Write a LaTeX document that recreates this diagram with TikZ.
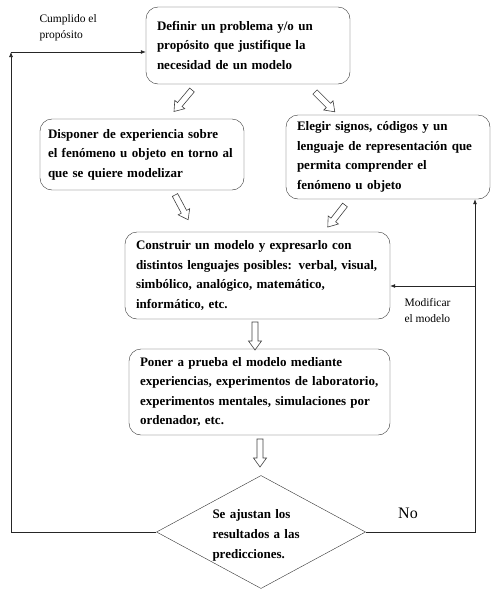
\documentclass[tikz,border=0pt]{standalone}
\usepackage{fontspec}
\setmainfont{Liberation Serif}
\usepackage{tikz}
\usetikzlibrary{arrows.meta,shapes.geometric}

\begin{document}
\begin{tikzpicture}[
  x=1pt, y=1pt,
  >={Latex[length=5pt,width=4pt]},
  paso/.style={draw=black!80, rounded corners=12pt, inner xsep=11pt, inner ysep=0pt,
               align=left, font=\fontsize{13}{19.5}\selectfont\bfseries},
  decision/.style={draw=black!80, diamond, inner sep=0pt, aspect=1.85,
                   minimum width=209pt, minimum height=113pt,
                   align=left, font=\fontsize{13}{20}\selectfont\bfseries},
  nota/.style={align=left, font=\fontsize{11.5}{16}\selectfont},
  flujo/.style={draw=black!85, line width=0.7pt},
  hueco/.pic={\draw[black!75, line width=0.6pt]
    (0,-3) -- (19,-3) -- (19,-6.5) -- (28,0) -- (19,6.5) -- (19,3) -- (0,3) -- cycle;}
]
\useasboundingbox (0,0) rectangle (496,-592);

% --- Boxes ---
\node[paso, minimum width=204pt, minimum height=77pt, text width=182pt] (def) at (248,-45.5)
  {Definir un problema y/o un\\propósito que justifique la\\necesidad de un modelo};
\node[paso, minimum width=204pt, minimum height=71pt, inner xsep=8pt, text width=188pt] (disp) at (142,-154.5)
  {Disponer de experiencia sobre\\el fenómeno u objeto en torno al\\que se quiere modelizar};
\node[paso, minimum width=204pt, minimum height=84pt, text width=182pt] (eleg) at (388,-157)
  {Elegir signos, códigos y un\\lenguaje de representación que\\permita comprender el\\fenómeno u objeto};
\node[paso, minimum width=265pt, minimum height=87pt, text width=243pt] (cons) at (257.5,-275.5)
  {Construir un modelo y expresarlo con\\distintos lenguajes posibles: verbal, visual,\\simbólico, analógico, matemático,\\informático, etc.};
\node[paso, minimum width=261pt, minimum height=86pt, text width=239pt] (prue) at (259.5,-392)
  {Poner a prueba el modelo mediante\\experiencias, experimentos de laboratorio,\\experimentos mentales, simulaciones por\\ordenador, etc.};

% --- Decision ---
\node[decision, text width=97pt] (ajus) at (261,-532)
  {\rule{0pt}{15pt}Se ajustan los\\resultados a las\\predicciones.};

% --- Hollow arrows between boxes ---
\pic[rotate=230] at (192,-90) {hueco};
\pic[rotate=-45] at (315,-92) {hueco};
\pic[rotate=-62] at (175,-195) {hueco};
\pic[rotate=232] at (345,-205) {hueco};
\pic[rotate=-90] at (255,-322) {hueco};
\pic[rotate=-90] at (260,-439) {hueco};

% --- Feedback loops ---
\coordinate (cumpl) at (11,-52);
\draw[flujo, ->] (ajus.west) -| (cumpl);
\draw[flujo, ->] (cumpl) -- (cumpl -| def.west);

\coordinate (esq) at (475,-532);
\coordinate (modif) at (475,-286);
\draw[flujo, ->] (ajus.east) -- (esq) -- (esq |- eleg.south);
\draw[flujo, ->] (modif) -- (modif -| cons.east);

% --- Labels ---
\node[nota, anchor=north west] (lcumpl) at (36,-11) {Cumplido el\\propósito};
\node[nota, anchor=north west] (lmodif) at (401,-295) {Modificar\\el modelo};
\node[font=\fontsize{16}{16}\selectfont] (lno) at (408,-513) {No};

\end{tikzpicture}
\end{document}
